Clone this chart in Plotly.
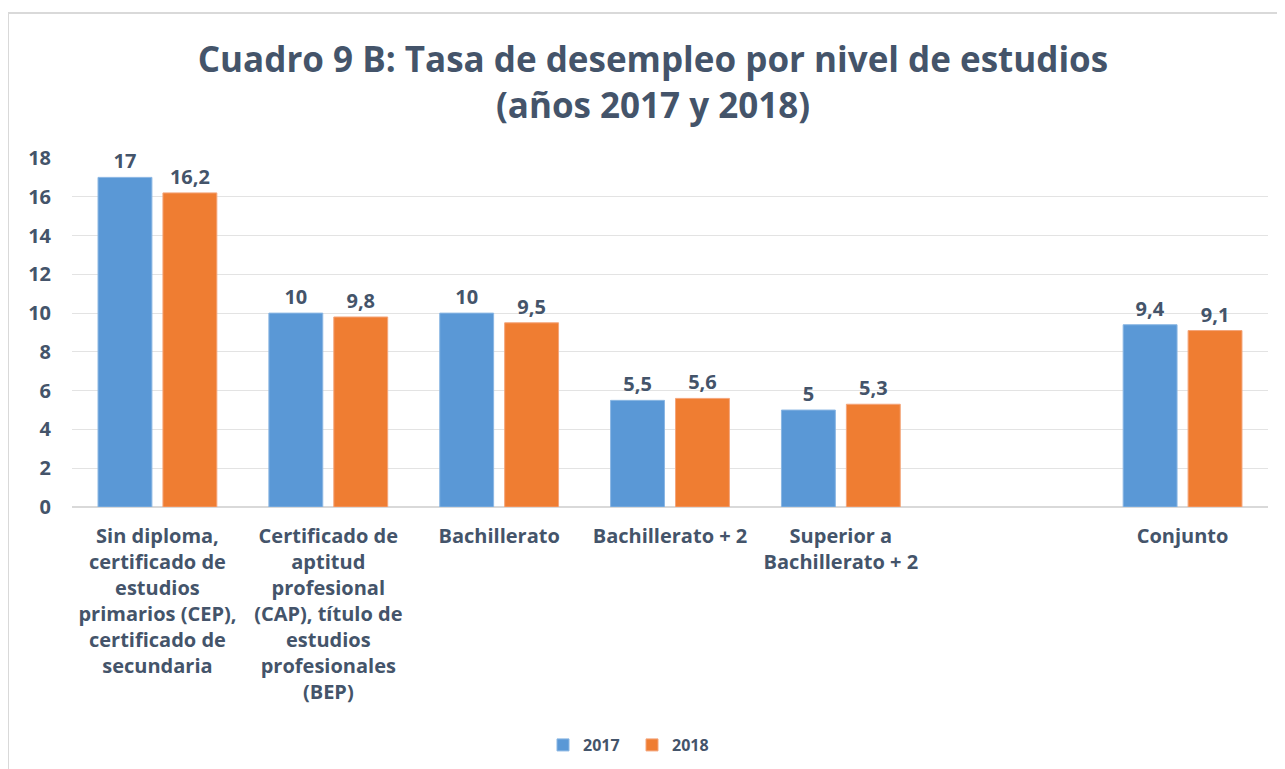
import plotly.graph_objects as go

categories = [
    "Sin diploma,<br>certificado de<br>estudios<br>primarios (CEP),<br>certificado de<br>secundaria",
    "Certificado de<br>aptitud<br>profesional<br>(CAP), título de<br>estudios<br>profesionales<br>(BEP)",
    "Bachillerato",
    "Bachillerato + 2",
    "Superior a<br>Bachillerato + 2",
    "Conjunto",
]
axis_order = categories[:5] + [" "] + categories[5:]
values_2017 = [17, 10, 10, 5.5, 5, 9.4]
values_2018 = [16.2, 9.8, 9.5, 5.6, 5.3, 9.1]
labels_2017 = ["17", "10", "10", "5,5", "5", "9,4"]
labels_2018 = ["16,2", "9,8", "9,5", "5,6", "5,3", "9,1"]
y_ticks = [0, 2, 4, 6, 8, 10, 12, 14, 16, 18]

FONT = "Open Sans"
TXT = "#44546A"
W, H = 1277, 761  # page body adds an 8px offset

fig = go.Figure()
fig.add_trace(go.Bar(
    name="<b>2017</b>", x=categories, y=values_2017,
    text=["<b>%s</b>" % t for t in labels_2017], textposition="outside",
    textfont=dict(family=FONT, size=20, color=TXT),
    marker=dict(color="#5A98D6", line=dict(color="#8AB6E3", width=1)),
    cliponaxis=False,
))
fig.add_trace(go.Bar(
    name="<b>2018</b>", x=categories, y=values_2018,
    text=["<b>%s</b>" % t for t in labels_2018], textposition="outside",
    textfont=dict(family=FONT, size=20, color=TXT),
    marker=dict(color="#EF7D32", line=dict(color="#F4A57A", width=1)),
    cliponaxis=False,
))

fig.update_layout(
    width=W, height=H,
    paper_bgcolor="white", plot_bgcolor="white",
    margin=dict(l=64, r=17, t=150, b=262, autoexpand=False),
    barmode="group", bargap=0.24, bargroupgap=0.17,
    title=dict(
        text="<b>Cuadro 9 B: Tasa de desempleo por nivel de estudios<br>(años 2017 y 2018)</b>",
        x=(653 - 8) / W, xanchor="center", y=1 - 64 / H, yanchor="middle", yref="container",
        font=dict(family=FONT, size=35, color=TXT),
    ),
    font=dict(family=FONT, color=TXT),
    showlegend=True,
    legend=dict(
        orientation="h", x=(632 - 72) / 1196, xanchor="center", y=-0.682, yanchor="middle",
        font=dict(family=FONT, size=16, color=TXT),
        itemwidth=30, traceorder="normal",
        entrywidth=44, entrywidthmode="pixels",
    ),
)
fig.update_xaxes(
    type="category", categoryorder="array", categoryarray=axis_order,
    range=[-0.5, 6.5],
    tickmode="array", tickvals=categories,
    ticktext=["<b>%s</b>" % c for c in categories],
    tickfont=dict(family=FONT, size=20, color=TXT),
    showline=True, linecolor="#D9D9D9", linewidth=1,
    ticks="", ticklabelstandoff=11,
    showgrid=False,
)
fig.update_yaxes(
    range=[0, 18], tickvals=y_ticks,
    ticktext=["<b>%d</b>" % v for v in y_ticks],
    tickfont=dict(family=FONT, size=20, color=TXT),
    showgrid=True, gridcolor="#E3E3E3", gridwidth=1,
    zeroline=True, zerolinecolor="#D9D9D9",
    ticks="", ticklabelstandoff=20,
)
fig.add_shape(
    type="rect", xref="paper", yref="paper",
    x0=(8 - 72) / 1196, x1=(1300 - 72) / 1196,
    y0=-1.0, y1=(507 - 13) / 349,
    line=dict(color="#D9D9D9", width=2), fillcolor="rgba(0,0,0,0)", layer="below",
)

fig.write_html("out.html")
